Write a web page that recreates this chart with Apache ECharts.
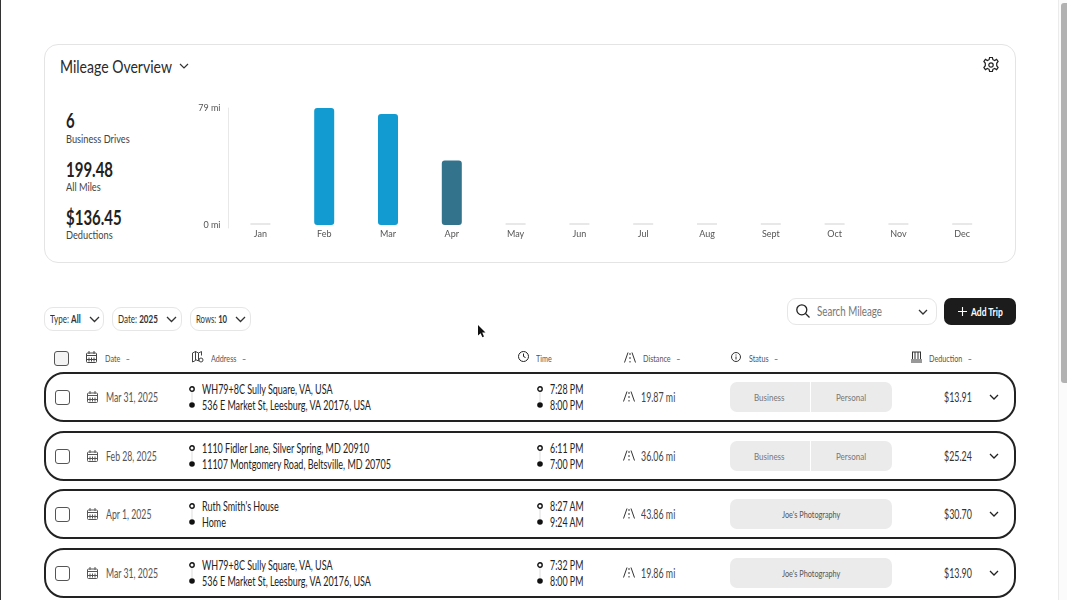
<!DOCTYPE html>
<html>
<head>
<meta charset="utf-8">
<script src="https://cdn.jsdelivr.net/npm/echarts@6/dist/echarts.min.js"></script>
<style>
  html, body { margin: 0; padding: 0; background: #fff; overflow: hidden; }
  body { width: 1067px; height: 600px; position: relative; font-family: Lato, "Noto Sans", sans-serif; color: #222; }
  .abs { position: absolute; white-space: nowrap; }
  .t { position: absolute; white-space: nowrap; transform-origin: left center; }
  .t.r { transform-origin: right center; }
  #edge { left: 0; top: 0; width: 1px; height: 600px; background: #333; }
  #track { left: 1058px; top: 0; width: 9px; height: 600px; background: #fbfbfb; border-left: 1px solid #ebebeb; box-sizing: border-box; }
  #thumb { left: 1061px; top: 3px; width: 6px; height: 380px; background: #b2b2b2; border-radius: 3px 0 0 3px; }
  #card { left: 44px; top: 44px; width: 970px; height: 217px; border: 1px solid #e4e4e4; border-radius: 14px; }
  #chart { left: 190px; top: 95px; width: 820px; height: 150px; }
  .pill { border: 1px solid #e6e6e6; border-radius: 9px; height: 22px; top: 307px; }
  #search { left: 787px; top: 298px; width: 148px; height: 25px; border: 1px solid #e6e6e6; border-radius: 9px; }
  #add { left: 944px; top: 298px; width: 72px; height: 27px; background: #1c1c1c; border-radius: 7px; }
  .row { left: 44px; width: 968px; height: 46px; border: 2px solid #222; border-radius: 20px; }
  .status { left: 730px; width: 162px; height: 30px; background: #ebebeb; border-radius: 7px; }
  .split { position: absolute; left: 80px; top: 0; width: 1px; height: 30px; background: #fff; }
  .check { width: 13px; height: 13px; border: 1px solid #555; border-radius: 3px; background: #fff; }
  svg { position: absolute; overflow: visible; fill: none; }
</style>
</head>
<body>
<div class="abs" id="edge"></div>
<div class="abs" id="track"></div>
<div class="abs" id="thumb"></div>
<div class="abs" id="card"></div>
<svg style="left:179px;top:63px" width="10" height="6" stroke="#333" stroke-width="1.2"><path d="M1 1l4 4 4-4"/></svg>
<svg style="left:983px;top:57px" width="16" height="16" stroke="#222" stroke-width="1.2"><circle cx="8" cy="8" r="2.2"/><path d="M6.6 0.5h2.8l.5 2.2 1.7.8 2-1.1 1.5 2-1.4 1.9v2.4l1.4 1.9-1.5 2-2-1.1-1.7.8-.5 2.2H6.6l-.5-2.2-1.7-.8-2 1.1-1.5-2 1.4-1.9V6.3L.9 4.4l1.5-2 2 1.1 1.7-.8z"/></svg>
<div class="abs" id="chart"></div>
<div id="page"></div>
<svg style="left:478px;top:325px" width="9" height="13"><path d="M0 0v10.5l2.6-2.3 1.8 4 1.6-.7-1.8-3.9h3.3z" fill="#111"/></svg>
<script>
const months = ['Jan', 'Feb', 'Mar', 'Apr', 'May', 'Jun', 'Jul', 'Aug', 'Sept', 'Oct', 'Nov', 'Dec'];
const miles = [0, 79, 75, 43.5, 0, 0, 0, 0, 0, 0, 0, 0];
const barColors = ['#e8e8e8', '#129bd0', '#129bd0', '#33748c', '#e8e8e8', '#e8e8e8', '#e8e8e8', '#e8e8e8', '#e8e8e8', '#e8e8e8', '#e8e8e8', '#e8e8e8'];
const axisTicks = [0, 79];

const statValues = ['6', '199.48', '$136.45'];
const statCaptions = ['Business Drives', 'All Miles', 'Deductions'];

const tripDates = ['Mar 31, 2025', 'Feb 28, 2025', 'Apr 1, 2025', 'Mar 31, 2025'];
const tripFrom = ['WH79+8C Sully Square, VA, USA', '1110 Fidler Lane, Silver Spring, MD 20910', "Ruth Smith's House", 'WH79+8C Sully Square, VA, USA'];
const tripTo = ['536 E Market St, Leesburg, VA 20176, USA', '11107 Montgomery Road, Beltsville, MD 20705', 'Home', '536 E Market St, Leesburg, VA 20176, USA'];
const tripStart = ['7:28 PM', '6:11 PM', '8:27 AM', '7:32 PM'];
const tripEnd = ['8:00 PM', '7:00 PM', '9:24 AM', '8:00 PM'];
const tripMiles = ['19.87 mi', '36.06 mi', '43.86 mi', '19.86 mi'];
const tripStatus = ['', '', "Joe's Photography", "Joe's Photography"];
const tripDeduction = ['$13.91', '$25.24', '$30.70', '$13.90'];
const rowTops = [372, 431, 489, 548];

const headers = ['Date', 'Address', 'Time', 'Distance', 'Status', 'Deduction'];
const headerX = [105, 211, 536, 643, 749, 929];

// text squeezed horizontally, the original UI font is much narrower than anything installed
const txt = (x, cy, str, size, color, sx, extra = '') =>
  `<div class="t" style="left:${x}px;top:${cy - size}px;line-height:${size * 2}px;font-size:${size}px;color:${color};transform:scaleX(${sx});${extra}">${str}</div>`;
const txtR = (right, cy, str, size, color, sx) =>
  `<div class="t r" style="right:${1067 - right}px;top:${cy - size}px;line-height:${size * 2}px;font-size:${size}px;color:${color};transform:scaleX(${sx})">${str}</div>`;

const chevron = (x, y, w, color) =>
  `<svg style="left:${x}px;top:${y}px" width="${w}" height="${w / 2 + 1}" stroke="${color}" stroke-width="1.3"><path d="M1 1l${w / 2 - 1} ${w / 2 - 1} ${w / 2 - 1} -${w / 2 - 1}"/></svg>`;
const calendar = (x, y, color) =>
  `<svg style="left:${x}px;top:${y}px" width="11" height="12" stroke="${color}" stroke-width="1"><rect x=".5" y="2" width="10" height="9.5" rx="1"/><path d="M3 0v3M8 0v3M.5 4.5h10M3 6.5v4M5.5 6.5v4M8 6.5v4M.5 8.5h10"/></svg>`;
const road = (x, y, color) =>
  `<svg style="left:${x}px;top:${y}px" width="12" height="11" stroke="${color}" stroke-width="1"><path d="M4 .5L.5 10.5M8 .5l3.5 10M6 1v2M6 5v2M6 9v1.5"/></svg>`;
const dots = (x, y) =>
  `<svg style="left:${x}px;top:${y}px" width="6" height="22" stroke="#111" stroke-width="1.4"><path d="M3 6v10" stroke="#ddd" stroke-width="1"/><circle cx="3" cy="3" r="2.2"/><circle cx="3" cy="19" r="2.8" fill="#111" stroke="none"/></svg>`;

const statY = [120, 169, 217];
const capY = [139, 187, 235];

let html = txt(60, 66, 'Mileage Overview', 18, '#2a2a2a', 0.78);
html += statValues.map((v, i) =>
  txt(66, statY[i], `<b>${v}</b>`, 20, '#222', 0.75) + txt(66, capY[i], statCaptions[i], 12, '#444', 0.77)).join('');

// filters and buttons
html +=
  `<div class="abs pill" style="left:44px;width:58px"></div>` + txt(50, 318, 'Type: <b>All</b>', 11.5, '#333', 0.7) + chevron(89, 316, 11, '#333') +
  `<div class="abs pill" style="left:112px;width:68px"></div>` + txt(118, 318, 'Date: <b>2025</b>', 11.5, '#333', 0.7) + chevron(166, 316, 11, '#333') +
  `<div class="abs pill" style="left:190px;width:59px"></div>` + txt(196, 318, 'Rows: <b>10</b>', 11.5, '#333', 0.67) + chevron(235, 316, 11, '#333') +
  `<div class="abs" id="search"></div>` +
  `<svg style="left:796px;top:304px" width="14" height="14" stroke="#222" stroke-width="1.3"><circle cx="5.8" cy="5.8" r="5"/><path d="M9.5 9.5l4 4"/></svg>` +
  txt(817, 311, 'Search Mileage', 13, '#777', 0.75) +
  chevron(918, 309, 10, '#333') +
  `<div class="abs" id="add"></div>` + txt(971, 312, '<b>Add Trip</b>', 12, '#fff', 0.71) +
  `<svg style="left:958px;top:307px" width="9" height="9" stroke="#fff" stroke-width="1.1"><path d="M4.5 0v9M0 4.5h9"/></svg>`;

// table header
html +=
  `<div class="abs check" style="left:54px;top:351px;background:#f4f4f4"></div>` +
  headers.map((h, i) => txt(headerX[i], 357.5, h + (h === 'Time' ? '' : ' &nbsp;&nbsp;–'), 10, '#555', 0.72)).join('') +
  calendar(86, 351, '#444') +
  `<svg style="left:192px;top:351px" width="12" height="12" stroke="#444" stroke-width="1"><path d="M.5 2l3-1.5v9l-3 1.5zM3.5.5l3 1.5v8l-3-1.5zM6.5 2l3-1.5v4"/><circle cx="9" cy="9" r="2"/></svg>` +
  `<svg style="left:518px;top:351px" width="11" height="11" stroke="#222" stroke-width="1"><circle cx="5.5" cy="5.5" r="5"/><path d="M5.5 2.5v3l2 1"/></svg>` +
  road(624, 352, '#333') +
  `<svg style="left:731px;top:352px" width="10" height="10" stroke="#333" stroke-width="1"><circle cx="5" cy="5" r="4.5"/><path d="M5 4.5v3M5 2.5v1"/></svg>` +
  `<svg style="left:911px;top:351px" width="11" height="12" stroke="#333" stroke-width="1"><path d="M1 1h9M1.5 1v7M4 1v7M7 1v7M9.5 1v7M0 9h11M0 11h11"/></svg>`;

// trip rows
html += rowTops.map((top, i) => {
  const mid = top + 25;
  const status = tripStatus[i]
    ? `<div class="abs status" style="top:${top + 10}px"></div>` + txt(782, mid, tripStatus[i], 10, '#555', 0.73)
    : `<div class="abs status" style="top:${top + 10}px"><div class="split"></div></div>` +
      txt(754, mid, 'Business', 10, '#777', 0.8) + txt(836, mid, 'Personal', 10, '#777', 0.8);
  return `<div class="abs row" style="top:${top}px"></div>` +
    `<div class="abs check" style="left:55px;top:${top + 18}px"></div>` +
    calendar(87, top + 19, '#555') +
    txt(106, mid, tripDates[i], 13, '#555', 0.67) +
    dots(189, top + 14) +
    txt(202, top + 17, tripFrom[i], 13, '#222', 0.69) +
    txt(202, top + 33, tripTo[i], 13, '#222', 0.69) +
    dots(537, top + 14) +
    txt(550, top + 17, tripStart[i], 13, '#222', 0.68) +
    txt(550, top + 33, tripEnd[i], 13, '#222', 0.68) +
    road(623, top + 19, '#333') +
    txt(641, mid, tripMiles[i], 13, '#444', 0.68) +
    status +
    txtR(972, mid, tripDeduction[i], 13, '#333', 0.68) +
    chevron(989, top + 22, 10, '#222');
}).join('');
document.getElementById('page').innerHTML = html;

const chart = echarts.init(document.getElementById('chart'));
chart.setOption({
  animation: false,
  grid: { left: 38.5, top: 13, width: 765.6, height: 120 },
  xAxis: {
    type: 'category',
    data: months,
    axisLine: { show: false },
    axisTick: { show: false },
    axisLabel: { color: '#555', fontSize: 9, margin: 2, fontFamily: 'Lato' }
  },
  yAxis: {
    type: 'value',
    min: -2,
    max: 79,
    splitLine: { show: false },
    axisTick: { show: false },
    axisLine: { show: true, lineStyle: { color: '#e8e8e8', width: 1 } },
    axisLabel: {
      customValues: axisTicks,
      formatter: (v) => v + ' mi',
      color: '#555',
      fontSize: 9,
      margin: 8,
      padding: [2, 0, 0, 0],
      fontFamily: 'Lato'
    }
  },
  series: [{
    type: 'bar',
    barWidth: 20,
    barMinHeight: 2,
    data: miles.map((v, i) => ({
      value: v,
      itemStyle: { color: barColors[i], borderRadius: v ? 3 : 0 }
    }))
  }]
});
</script>
</body>
</html>
